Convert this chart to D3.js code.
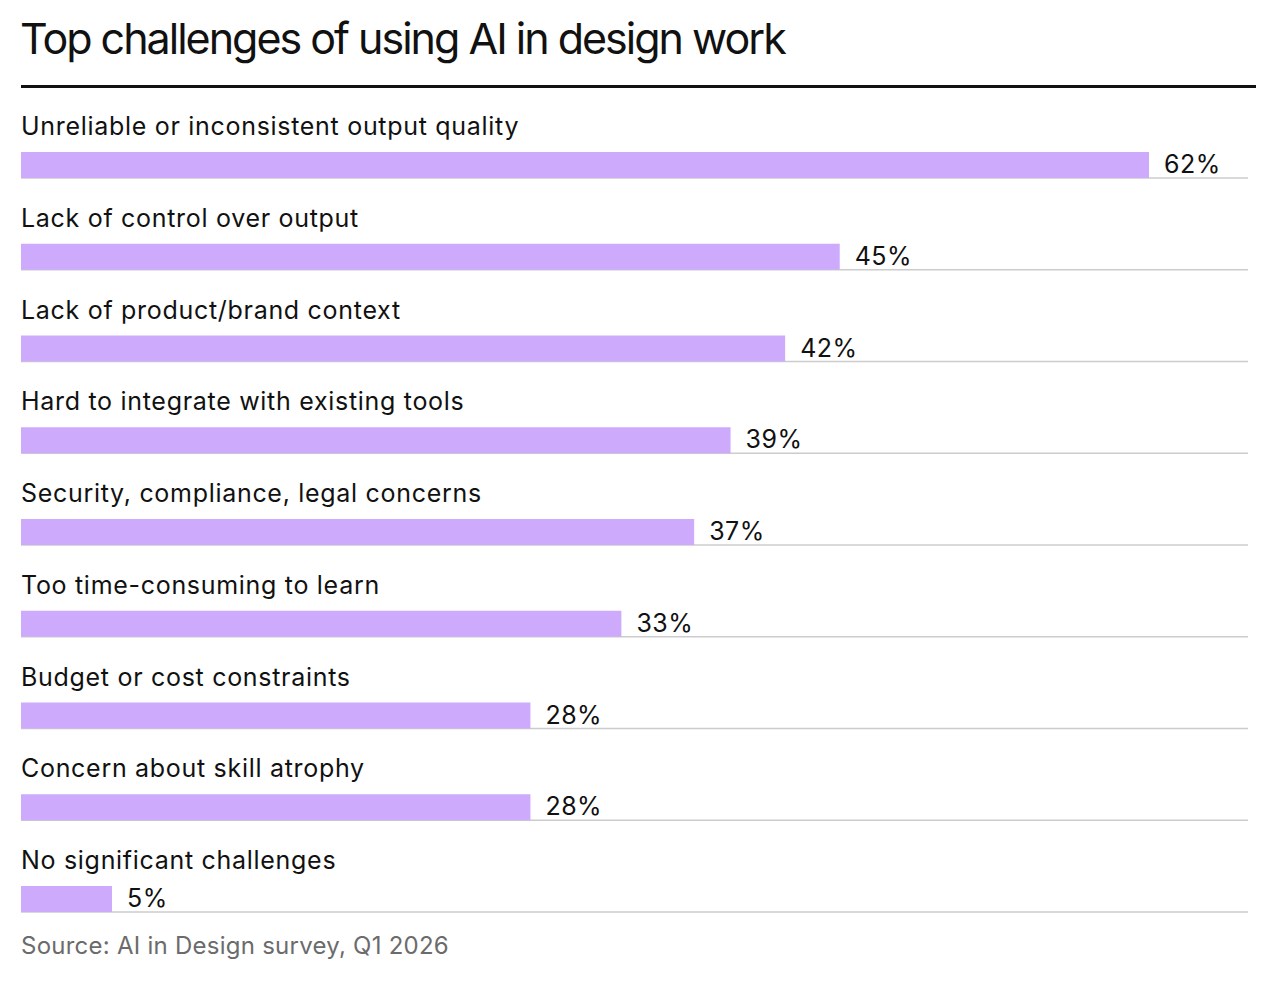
<!DOCTYPE html>
<html>
<head>
<meta charset="utf-8">
<script src="https://cdn.jsdelivr.net/npm/d3@7"></script>
<style>
  body { margin: 0; background: #fff; }
  text { font-family: Inter, "Noto Sans", sans-serif; }
</style>
</head>
<body>
<div id="chart"></div>
<script>
// data
var categories = [
  "Unreliable or inconsistent output quality",
  "Lack of control over output",
  "Lack of product/brand context",
  "Hard to integrate with existing tools",
  "Security, compliance, legal concerns",
  "Too time-consuming to learn",
  "Budget or cost constraints",
  "Concern about skill atrophy",
  "No significant challenges"
];
var values = [62, 45, 42, 39, 37, 33, 28, 28, 5];

var svgWidth = 1280;
var svgHeight = 1000;

var margin = { left: 21 };

var svg = d3.select("#chart")
  .append("svg")
  .attr("width", svgWidth)
  .attr("height", svgHeight);

// title
svg.append("text")
  .attr("x", margin.left - 1)
  .attr("y", 54)
  .attr("font-size", 43)
  .attr("letter-spacing", -2)
  .attr("fill", "#111")
  .text("Top challenges of using AI in design work");

svg.append("line")
  .attr("x1", margin.left)
  .attr("x2", 1256)
  .attr("y1", 86.5)
  .attr("y2", 86.5)
  .attr("stroke", "#111")
  .attr("stroke-width", 3);

// scales
var xScale = d3.scaleLinear()
  .domain([0, 62])
  .range([margin.left, 1149]);

var rowScale = d3.scaleBand()
  .domain(categories)
  .range([86.25, 912]);

// bottom rule of each row
function baseY(d) { return rowScale(d) + rowScale.bandwidth(); }

var rows = svg.selectAll(".row")
  .data(categories)
  .enter()
  .append("g")
  .attr("class", "row");

// grey rule
rows.append("line")
  .attr("x1", margin.left)
  .attr("x2", 1248)
  .attr("y1", d => baseY(d))
  .attr("y2", d => baseY(d))
  .attr("stroke", "#cccccc")
  .attr("stroke-width", 1.5);

// bars
rows.append("rect")
  .attr("x", xScale(0))
  .attr("y", d => baseY(d) - 26)
  .attr("width", (d, i) => xScale(values[i]) - xScale(0))
  .attr("height", 26)
  .attr("fill", "#cdaafc");

// category labels
rows.append("text")
  .attr("x", margin.left)
  .attr("y", d => baseY(d) - 43)
  .attr("font-size", 25)
  .attr("letter-spacing", 0.7)
  .attr("fill", "#111")
  .text(d => d);

// value labels
rows.append("text")
  .attr("x", (d, i) => xScale(values[i]) + 15)
  .attr("y", d => baseY(d) - 5)
  .attr("font-size", 25)
  .attr("letter-spacing", 0.5)
  .attr("fill", "#111")
  .text((d, i) => values[i] + "%");

// source
svg.append("text")
  .attr("x", margin.left)
  .attr("y", 954)
  .attr("font-size", 24)
  .attr("letter-spacing", 0.25)
  .attr("fill", "#6b6b6b")
  .text("Source: AI in Design survey, Q1 2026");
</script>
</body>
</html>
